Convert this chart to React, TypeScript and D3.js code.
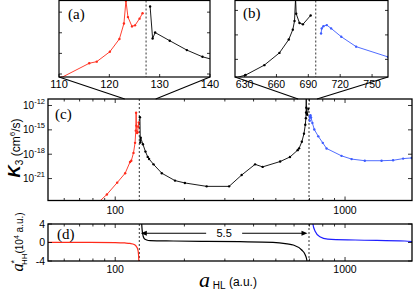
import React from 'react';
import * as d3 from 'd3';

// K3 given as log10 (cm^6/s), against a_HL (a.u.)
const redA = [84, 92, 102, 110.5, 116, 117.5, 120.1, 122, 122.9, 123.3, 123.7, 124.5, 125.1, 126.0, 126.6];
const redK = [-24.0, -22.96, -21.5, -20.34, -18.96, -18.8, -17.84, -16.6, -15.1, -12.9, -14.48, -15.38, -15.28, -14.63, -14.1];

const blackA = [128.1, 128.6, 129.1, 132, 135.4, 138.5, 140.4, 146.8, 159.5, 182, 201, 250, 313, 355, 406, 438, 522, 576, 622, 631, 648.6, 662.8, 671.6, 675.4, 677, 678, 678.6, 681.7, 684.9, 692.2];
const blackK = [-13.45, -16.56, -15.98, -16.77, -17.68, -18.33, -18.58, -19.25, -20.34, -21.25, -21.54, -21.96, -21.96, -20.56, -19.25, -19.56, -18.9, -18.34, -17.5, -17.28, -16.47, -15.47, -14.38, -13.57, -12.87, -11.0, -12.27, -13.03, -13.14, -12.41];

const blueA = [702, 702.6, 704.2, 707.4, 711.5, 721, 735, 765, 800, 831, 965, 1068, 1219, 1442, 1618, 1790, 1950];
const blueK = [-13.88, -13.47, -13.29, -13.2, -13.47, -14.15, -14.96, -15.8, -16.6, -17.29, -18.2, -18.6, -18.8, -18.8, -18.75, -18.54, -18.46];

// a*_HH (10^4 a.u.) against a_HL
const redDA = [51, 70, 100, 110, 116, 121, 124, 125.5, 126.3, 126.8, 127.1];
const redDV = [0.04, 0.04, -0.02, -0.1, -0.2, -0.42, -0.95, -1.6, -2.6, -4.5, -7];
const blackDA = [129.5, 130.4, 131.5, 133.5, 137, 142, 179, 250, 349, 486, 560, 595, 648, 670, 682, 688];
const blackDV = [8, 4.0, 2.0, 0.9, 0.55, 0.39, 0.32, 0.24, 0.17, 0.04, -0.3, -0.54, -1.62, -2.6, -3.78, -6];
const blueDA = [715, 724, 740, 777, 840, 1106, 1820, 1956];
const blueDV = [8, 4.15, 2.5, 1.25, 0.75, 0.54, 0.32, 0.17];

const poles = [127.3, 697];
const zoomA = [110, 140];
const zoomB = [621, 765];
const linkA = [110, 150];
const linkB = [625, 755];
const ticksA = [110, 120, 130, 140];
const ticksB = [630, 660, 690, 720, 750];
const yTicksA = [-14, -16, -18, -20];
const yTicksB = [-12, -14, -16];
const yTicksC = [-12, -15, -18, -21];
const yTicksD = [4, 0, -4];
const xLabels = [100, 1000];
const ratioLabel = '5.5';

const RED = '#ff2a1a';
const BLUE = '#3d5cff';
const BLUE_D = '#1f1fff';
const SANS = 'Liberation Sans, Arial, sans-serif';
const SERIF = 'Liberation Serif, Times New Roman, serif';

const pts = (xs: number[], ys: number[]) => xs.map((x, i) => [x, ys[i]] as [number, number]);

export default function App() {
  const xC = d3.scaleLog().domain([51, 1956]).range([48, 412]);
  const yC = d3.scaleLog().domain([10 ** -23.7, 10 ** -11.2]).range([200.5, 99]);
  const yD = d3.scaleLinear().domain([-4, 4]).range([261, 224]);
  const xA = d3.scaleLinear().domain(zoomA).range([59, 210]);
  const yA = d3.scaleLog().domain([10 ** -20.29, 10 ** -12.87]).range([77, 0.5]);
  const xB = d3.scaleLinear().domain(zoomB).range([235, 388]);
  const yB = d3.scaleLog().domain([10 ** -17.44, 10 ** -11.19]).range([77, 0.5]);

  const series = [
    { d: pts(redA, redK), c: RED },
    { d: pts(blackA, blackK), c: '#000' },
    { d: pts(blueA, blueK), c: BLUE },
  ];
  const seriesD = [
    { d: pts(redDA, redDV), c: RED },
    { d: pts(blackDA, blackDV), c: '#000' },
    { d: pts(blueDA, blueDV), c: BLUE_D },
  ];

  const kLine = (x: any, y: any) =>
    d3.line<[number, number]>().x(d => x(d[0])).y(d => y(10 ** d[1]));
  const dLine = d3.line<[number, number]>().x(d => xC(d[0])).y(d => yD(d[1])).curve(d3.curveMonotoneX);

  const drawK = (x: any, y: any, clip: string, lo: number, hi: number) => (
    <g clipPath={`url(#${clip})`}>
      {series.map((s, i) => (
        <g key={i}>
          <path d={kLine(x, y)(s.d) || ''} fill="none" stroke={s.c} strokeWidth={0.9} />
          {s.d.filter(p => p[0] >= lo && p[0] <= hi).map((p, j) => (
            <circle key={j} cx={x(p[0])} cy={y(10 ** p[1])} r={1.2} fill={s.c} />
          ))}
        </g>
      ))}
    </g>
  );

  const minor = xC.ticks().filter(t => !xLabels.includes(t));

  const xTicksLog = (top: number, bottom: number) => (
    <g stroke="#000" strokeWidth={0.8}>
      {minor.map(t => (
        <g key={t}>
          <line x1={xC(t)} x2={xC(t)} y1={top} y2={top + 2.5} />
          <line x1={xC(t)} x2={xC(t)} y1={bottom} y2={bottom - 2.5} />
        </g>
      ))}
      {xLabels.map(t => (
        <g key={t}>
          <line x1={xC(t)} x2={xC(t)} y1={top} y2={top + 4} />
          <line x1={xC(t)} x2={xC(t)} y1={bottom} y2={bottom - 4} />
        </g>
      ))}
    </g>
  );

  const arrowY = yD(2);
  const xl = xC(poles[0]) + 1.5;
  const xr = xC(poles[1]) - 1.5;
  const xm = xC(Math.sqrt(poles[0] * poles[1]));

  return (
    <svg width={415} height={291} style={{ position: 'absolute', left: 0, top: 0, background: '#fff' }}>
      <defs>
        <clipPath id="ca"><rect x={59} y={0.5} width={151} height={76.5} /></clipPath>
        <clipPath id="cb"><rect x={235} y={0.5} width={153} height={76.5} /></clipPath>
        <clipPath id="cc"><rect x={48} y={99} width={364} height={101.5} /></clipPath>
        <clipPath id="cd"><rect x={48} y={224} width={364} height={37} /></clipPath>
      </defs>

      {/* inset (a) */}
      <line x1={xA(poles[0])} x2={xA(poles[0])} y1={0.5} y2={77} stroke="#000" strokeWidth={0.8} strokeDasharray="2,2" />
      {drawK(xA, yA, 'ca', zoomA[0], zoomA[1])}
      <rect x={59} y={0.5} width={151} height={76.5} fill="none" stroke="#000" strokeWidth={1.2} />
      <g stroke="#000" strokeWidth={0.8}>
        {ticksA.map(t => <line key={t} x1={xA(t)} x2={xA(t)} y1={77} y2={74} />)}
        {yTicksA.map(t => (
          <g key={t}>
            <line x1={59} x2={62} y1={yA(10 ** t)} y2={yA(10 ** t)} />
            <line x1={210} x2={207} y1={yA(10 ** t)} y2={yA(10 ** t)} />
          </g>
        ))}
      </g>
      <g fontFamily={SANS} fontSize={11} textAnchor="middle">
        {ticksA.map(t => <text key={t} x={xA(t)} y={88}>{t}</text>)}
      </g>
      <text x={68} y={19} fontFamily={SERIF} fontSize={15}>(a)</text>

      {/* inset (b) */}
      <line x1={xB(poles[1])} x2={xB(poles[1])} y1={0.5} y2={77} stroke="#000" strokeWidth={0.8} strokeDasharray="2,2" />
      {drawK(xB, yB, 'cb', zoomB[0], zoomB[1])}
      <rect x={235} y={0.5} width={153} height={76.5} fill="none" stroke="#000" strokeWidth={1.2} />
      <g stroke="#000" strokeWidth={0.8}>
        {ticksB.map(t => <line key={t} x1={xB(t)} x2={xB(t)} y1={77} y2={74} />)}
        {yTicksB.map(t => (
          <g key={t}>
            <line x1={235} x2={238} y1={yB(10 ** t)} y2={yB(10 ** t)} />
            <line x1={388} x2={385} y1={yB(10 ** t)} y2={yB(10 ** t)} />
          </g>
        ))}
      </g>
      <g fontFamily={SANS} fontSize={10.5} textAnchor="middle">
        {ticksB.map(t => <text key={t} x={xB(t)} y={88}>{t}</text>)}
      </g>
      <text x={243} y={18} fontFamily={SERIF} fontSize={15}>(b)</text>

      {/* connectors */}
      <g stroke="#000" strokeWidth={1.1}>
        <line x1={59} y1={77} x2={xC(linkA[0])} y2={99} />
        <line x1={210} y1={77} x2={xC(linkA[1])} y2={99} />
        <line x1={235} y1={77} x2={xC(linkB[0])} y2={99} />
        <line x1={388} y1={77} x2={xC(linkB[1])} y2={99} />
      </g>

      {/* panel (c) */}
      {poles.map(p => (
        <line key={p} x1={xC(p)} x2={xC(p)} y1={99} y2={200.5} stroke="#000" strokeWidth={0.8} strokeDasharray="2,2" />
      ))}
      {drawK(xC, yC, 'cc', 51, 1956)}
      <rect x={48} y={99} width={364} height={101.5} fill="none" stroke="#000" strokeWidth={1.3} />
      {xTicksLog(99, 200.5)}
      <g stroke="#000" strokeWidth={0.8}>
        {yTicksC.map(t => (
          <g key={t}>
            <line x1={48} x2={52} y1={yC(10 ** t)} y2={yC(10 ** t)} />
            <line x1={412} x2={408} y1={yC(10 ** t)} y2={yC(10 ** t)} />
          </g>
        ))}
      </g>
      <g fontFamily={SANS} textAnchor="end">
        {yTicksC.map(t => (
          <text key={t} x={45} y={yC(10 ** t) + 3.5}>
            <tspan fontSize={10}>10</tspan>
            <tspan fontSize={7.5} dy={-5}>{t}</tspan>
          </text>
        ))}
      </g>
      <g fontFamily={SANS} fontSize={10.5} textAnchor="middle">
        {xLabels.map(t => <text key={t} x={xC(t)} y={214}>{t}</text>)}
      </g>
      <text x={55} y={119} fontFamily={SERIF} fontSize={15}>(c)</text>
      <text transform="translate(20,148) rotate(-90)" textAnchor="middle" fontFamily={SANS}>
        <tspan fontSize={17} fontWeight="bold" fontStyle="italic">K</tspan>
        <tspan fontSize={10} dy={3}>3</tspan>
        <tspan fontSize={12} dy={-3}> (cm</tspan>
        <tspan fontSize={8} dy={-5}>6</tspan>
        <tspan fontSize={12} dy={5}>/s)</tspan>
      </text>

      {/* panel (d) */}
      {poles.map(p => (
        <line key={p} x1={xC(p)} x2={xC(p)} y1={224} y2={261} stroke="#000" strokeWidth={0.8} strokeDasharray="2,2" />
      ))}
      <g clipPath="url(#cd)">
        {seriesD.map((s, i) => (
          <path key={i} d={dLine(s.d) || ''} fill="none" stroke={s.c} strokeWidth={1.2} />
        ))}
      </g>
      <rect x={48} y={224} width={364} height={37} fill="none" stroke="#000" strokeWidth={1.3} />
      {xTicksLog(224, 261)}
      <g stroke="#000" strokeWidth={0.8}>
        {yTicksD.map(t => (
          <g key={t}>
            <line x1={48} x2={52} y1={yD(t)} y2={yD(t)} />
            <line x1={412} x2={408} y1={yD(t)} y2={yD(t)} />
          </g>
        ))}
      </g>
      <g fontFamily={SANS} fontSize={10.5} textAnchor="end">
        {yTicksD.map(t => <text key={t} x={45} y={yD(t) + 3.8}>{t}</text>)}
      </g>
      <g fontFamily={SANS} fontSize={10.5} textAnchor="middle">
        {xLabels.map(t => <text key={t} x={xC(t)} y={273}>{t}</text>)}
      </g>
      <text x={57} y={239} fontFamily={SERIF} fontSize={15}>(d)</text>

      {/* ratio arrow */}
      <g stroke="#000" strokeWidth={1}>
        <line x1={xl + 5} x2={xm - 18} y1={arrowY} y2={arrowY} />
        <line x1={xm + 18} x2={xr - 5} y1={arrowY} y2={arrowY} />
      </g>
      <path d={`M${xl},${arrowY}L${xl + 6},${arrowY - 2.5}L${xl + 6},${arrowY + 2.5}Z`} fill="#000" />
      <path d={`M${xr},${arrowY}L${xr - 6},${arrowY - 2.5}L${xr - 6},${arrowY + 2.5}Z`} fill="#000" />
      <text x={xm} y={arrowY + 4} textAnchor="middle" fontFamily={SANS} fontSize={11}>{ratioLabel}</text>

      <text transform="translate(23,242) rotate(-90)" textAnchor="middle" fontFamily={SANS}>
        <tspan fontSize={16} fontStyle="italic" fontFamily={SERIF}>a</tspan>
        <tspan fontSize={9} dy={-6}>*</tspan>
        <tspan fontSize={8} dx={-5} dy={10}>HH</tspan>
        <tspan fontSize={10} dy={-4}>(10</tspan>
        <tspan fontSize={7} dy={-4}>4</tspan>
        <tspan fontSize={10} dy={4}> a.u.)</tspan>
      </text>

      {/* x-axis label */}
      <text x={199} y={287} fontFamily={SANS}>
        <tspan fontSize={22} fontStyle="italic" fontFamily={SERIF}>a</tspan>
        <tspan fontSize={10} dy={2}> HL</tspan>
        <tspan fontSize={12} dy={-3}> (a.u.)</tspan>
      </text>
    </svg>
  );
}
